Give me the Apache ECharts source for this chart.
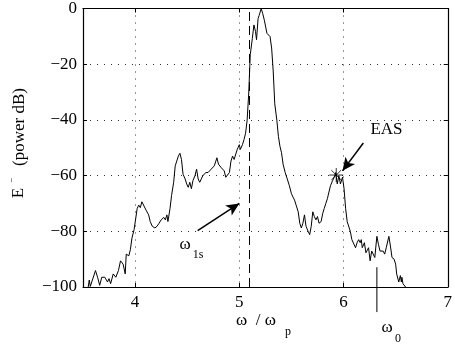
<!DOCTYPE html>
<html><head><meta charset="utf-8">
<script src="https://cdn.jsdelivr.net/npm/echarts@6/dist/echarts.min.js"></script>
<style>html,body{margin:0;padding:0;background:#fff}#c{width:455px;height:349px}</style>
</head><body><div id="c"></div>
<script>
const freq = [
3.55,3.56,3.57,3.62,3.64,3.66,3.68,3.695,3.71,3.735,
3.75,3.765,3.79,3.815,3.84,3.86,3.885,3.905,3.915,3.94,
3.955,3.97,3.99,4.0,4.02,4.035,4.05,4.065,4.08,4.105,
4.13,4.145,4.165,4.19,4.21,4.23,4.25,4.275,4.29,4.305,
4.315,4.335,4.35,4.37,4.385,4.4,4.415,4.43,4.445,4.46,
4.48,4.495,4.51,4.525,4.54,4.555,4.575,4.59,4.605,4.62,
4.635,4.65,4.665,4.68,4.7,4.715,4.73,4.745,4.76,4.785,
4.8,4.825,4.84,4.855,4.87,4.885,4.905,4.92,4.935,4.95,
4.965,4.98,5.0,5.01,5.03,5.045,5.06,5.075,5.09,5.105,
5.125,5.14,5.155,5.165,5.18,5.19,5.21,5.225,5.24,5.265,
5.28,5.295,5.31,5.325,5.34,5.36,5.375,5.39,5.405,5.42,
5.44,5.46,5.48,5.5,5.515,5.53,5.545,5.565,5.58,5.595,
5.61,5.625,5.64,5.66,5.675,5.69,5.705,5.72,5.735,5.75,
5.765,5.785,5.8,5.815,5.83,5.845,5.86,5.875,5.895,5.91,
5.925,5.94,5.955,5.97,5.99,6.005,6.02,6.035,6.05,6.065,
6.08,6.095,6.115,6.13,6.145,6.16,6.17,6.18,6.2,6.215,
6.225,6.24,6.255,6.27,6.285,6.3,6.32,6.335,6.35,6.365,
6.38,6.395,6.41,6.435,6.45,6.465,6.485,6.5,6.51,6.53,
6.545,6.555,6.56,6.57,6.585,6.595];
const power = [
-100,-97.5,-99.8,-94.1,-96.5,-99.4,-96.5,-97,-96.5,-98.2,
-97,-98.8,-95.3,-96.5,-94.1,-90.6,-91.8,-95.3,-88.2,-88.8,
-86.5,-82.4,-79.4,-80,-71.8,-70.6,-71.5,-69.4,-70,-72.4,
-74.1,-76.5,-78.2,-78.8,-78.2,-77.1,-75.9,-75,-75.9,-74.1,
-76.5,-71.8,-67.1,-62.4,-56.5,-55.9,-53,-52,-54.2,-59.5,
-61.2,-63,-64.2,-62.4,-64.7,-61.8,-60,-57.7,-61.2,-62.4,
-61.2,-60,-59.5,-58.9,-58.9,-58.3,-57.7,-57.9,-56.5,-53.6,
-55.9,-57.1,-56.5,-58.3,-60.6,-60,-58.9,-54.8,-53,-54.2,
-54.8,-50.6,-48.9,-50.6,-48.9,-47.1,-44.8,-40.1,-30.7,-16.6,
-10.7,-5.9,-8.2,-11.2,-3.6,-2.5,0,-1.9,-4.2,-8.9,
-9.5,-10.1,-14.2,-22.4,-34.2,-40.1,-45.9,-49.5,-51.8,-55.9,
-58.9,-61.2,-63.6,-66.5,-67.7,-68.8,-70.6,-73,-77.1,-78.8,
-77.1,-74.1,-78.2,-80,-81.2,-78.2,-73,-74.7,-75.9,-74.7,
-77.1,-76.5,-73.6,-71.8,-70,-68.3,-65.9,-63.6,-61.8,-60.6,
-58.9,-63,-60,-63,-60.6,-64.7,-71.8,-76.5,-77.1,-80,
-83,-83.5,-85.9,-84.1,-83,-84.1,-83,-85.9,-84.1,-87.7,
-87.1,-85.9,-90.6,-87.1,-87.7,-89.4,-81.8,-84.7,-87.1,-87.7,
-87.1,-88.2,-85.9,-81.8,-85.3,-89.4,-90,-91.8,-95.3,-98.2,
-95.9,-98.2,-96.5,-98.8,-99.4,-100];
const xTicks = [4, 5, 6, 7];
const yTicks = [-100, -80, -60, -40, -20, 0];
const easPoint = [5.93, -59.8];
const omega1s = 5.1;
const omega0 = 6.32;
const easArrow = [[6.19, -48.3], [5.99, -58.3]];
const w1sArrow = [[4.60, -79.8], [5.0, -70]];

const FONT = '"Liberation Serif","Times New Roman",serif';
const chart = echarts.init(document.getElementById('c'), null, {renderer: 'canvas'});
const fmt = v => String(v).replace('-', '\u2212');
const baseX = {
  type: 'value', min: 3.5, max: 7,
  axisLine: {show: true, onZero: false, lineStyle: {color: '#000', width: 1.2}},
  axisTick: {show: true, inside: true, length: 4, customValues: xTicks, lineStyle: {color: '#000'}},
  axisLabel: {customValues: xTicks, color: '#000', fontFamily: FONT, fontSize: 17, margin: 7},
  splitLine: {show: true, lineStyle: {color: '#333', type: [1, 6], width: 1}}
};
const baseY = {
  type: 'value', min: -100, max: 0, interval: 20,
  axisLine: {show: true, onZero: false, lineStyle: {color: '#000', width: 1.2}},
  axisTick: {show: true, inside: true, length: 4, lineStyle: {color: '#000'}},
  axisLabel: {color: '#000', fontFamily: FONT, fontSize: 17, margin: 6, formatter: fmt},
  splitLine: {show: true, lineStyle: {color: '#333', type: [1, 6], width: 1}}
};
const data = freq.map((f, i) => [f, power[i]]);
chart.setOption({
  animation: false,
  backgroundColor: '#fff',
  grid: {left: 83, right: 1, top: 3, bottom: 62, containLabel: false},
  xAxis: [
    Object.assign({}, baseX, {position: 'bottom'}),
    Object.assign({}, baseX, {position: 'top', axisLabel: {show: false, customValues: xTicks}, splitLine: {show: false}})
  ],
  yAxis: [
    Object.assign({}, baseY, {position: 'left'}),
    Object.assign({}, baseY, {position: 'right', axisLabel: {show: false}, splitLine: {show: false}})
  ],
  series: [
    {
      type: 'line', data: data, showSymbol: false, symbol: 'none',
      lineStyle: {color: '#000', width: 1}, silent: true,
      markLine: {
        silent: true, symbol: 'none', label: {show: false}, animation: false,
        emphasis: {disabled: true},
        data: [
          {xAxis: omega1s, lineStyle: {color: '#000', width: 1, type: [9, 5]}},
          [{coord: easArrow[0], symbol: 'none', lineStyle: {color: '#000', width: 1.5, type: 'solid'}},
           {coord: easArrow[1], symbol: 'arrow', symbolSize: [9, 13]}],
          [{coord: w1sArrow[0], symbol: 'none', lineStyle: {color: '#000', width: 1.5, type: 'solid'}},
           {coord: w1sArrow[1], symbol: 'arrow', symbolSize: [9, 13]}]
        ]
      }
    },
    {
      type: 'scatter', data: [easPoint], silent: true,
      symbol: 'path://M10,0L10,20M0,10L20,10M3,3L17,17M3,17L17,3', symbolSize: 14,
      itemStyle: {color: 'rgba(0,0,0,0)', borderColor: '#000', borderWidth: 1}
    }
  ]
});

const p0a = chart.convertToPixel({gridIndex: 0}, [omega0, -92.9]);
const p0b = chart.convertToPixel({gridIndex: 0}, [omega0, -109]);
const t = (x, y, text, size, extra) => Object.assign({
  type: 'text', x: x, y: y, silent: true,
  style: {text: text, font: size + 'px ' + FONT, fill: '#000', align: 'center', verticalAlign: 'middle'}
}, extra || {});
chart.setOption({
  graphic: [
    {type: 'line', silent: true, shape: {x1: p0a[0], y1: p0a[1], x2: p0b[0], y2: p0b[1]}, style: {stroke: '#000', lineWidth: 1}},
    t(387, 328, '\u03c9', 17), t(398, 339, '0', 12),
    t(185, 245, '\u03c9', 17), t(198, 255, '1s', 12),
    t(386.5, 130, 'EAS', 17),
    t(256, 321, '\u03c9  / \u03c9', 17), t(288, 332, 'p', 12),
    t(19, 193, 'E', 17, {rotation: Math.PI / 2}),
    t(12, 180.5, '\u2212', 9, {rotation: Math.PI / 2}),
    t(20, 127, '(power dB)', 17, {rotation: Math.PI / 2})
  ]
});
</script>
</body></html>
